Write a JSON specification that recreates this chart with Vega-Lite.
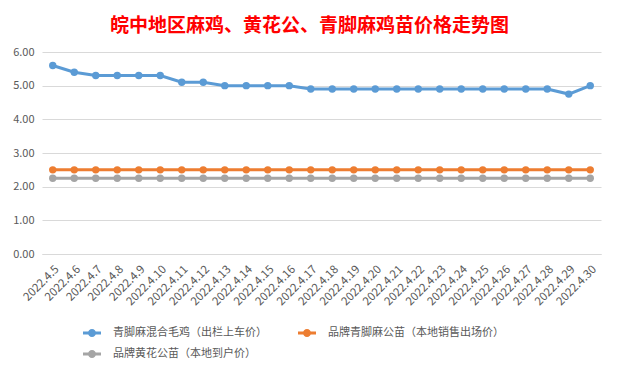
{
  "$schema": "https://vega.github.io/schema/vega-lite/v6.json",
  "width": 559,
  "height": 202,
  "autosize": "none",
  "padding": {"left": 42, "top": 52, "right": 18, "bottom": 118},
  "background": "white",
  "config": {
    "font": "Noto Sans CJK SC",
    "view": {"stroke": null}
  },
  "title": {
    "text": "皖中地区麻鸡、黄花公、青脚麻鸡苗价格走势图",
    "color": "#FF0000",
    "fontSize": 19,
    "fontWeight": "bold",
    "font": "Noto Sans CJK SC",
    "anchor": "middle",
    "frame": "group",
    "dx": -12,
    "offset": 10
  },
  "datasets": {
    "prices": [
      {"date": "2022.4.5", "s": "青脚麻混合毛鸡（出栏上车价）", "v": 5.6},
      {"date": "2022.4.6", "s": "青脚麻混合毛鸡（出栏上车价）", "v": 5.4},
      {"date": "2022.4.7", "s": "青脚麻混合毛鸡（出栏上车价）", "v": 5.3},
      {"date": "2022.4.8", "s": "青脚麻混合毛鸡（出栏上车价）", "v": 5.3},
      {"date": "2022.4.9", "s": "青脚麻混合毛鸡（出栏上车价）", "v": 5.3},
      {"date": "2022.4.10", "s": "青脚麻混合毛鸡（出栏上车价）", "v": 5.3},
      {"date": "2022.4.11", "s": "青脚麻混合毛鸡（出栏上车价）", "v": 5.1},
      {"date": "2022.4.12", "s": "青脚麻混合毛鸡（出栏上车价）", "v": 5.1},
      {"date": "2022.4.13", "s": "青脚麻混合毛鸡（出栏上车价）", "v": 5.0},
      {"date": "2022.4.14", "s": "青脚麻混合毛鸡（出栏上车价）", "v": 5.0},
      {"date": "2022.4.15", "s": "青脚麻混合毛鸡（出栏上车价）", "v": 5.0},
      {"date": "2022.4.16", "s": "青脚麻混合毛鸡（出栏上车价）", "v": 5.0},
      {"date": "2022.4.17", "s": "青脚麻混合毛鸡（出栏上车价）", "v": 4.9},
      {"date": "2022.4.18", "s": "青脚麻混合毛鸡（出栏上车价）", "v": 4.9},
      {"date": "2022.4.19", "s": "青脚麻混合毛鸡（出栏上车价）", "v": 4.9},
      {"date": "2022.4.20", "s": "青脚麻混合毛鸡（出栏上车价）", "v": 4.9},
      {"date": "2022.4.21", "s": "青脚麻混合毛鸡（出栏上车价）", "v": 4.9},
      {"date": "2022.4.22", "s": "青脚麻混合毛鸡（出栏上车价）", "v": 4.9},
      {"date": "2022.4.23", "s": "青脚麻混合毛鸡（出栏上车价）", "v": 4.9},
      {"date": "2022.4.24", "s": "青脚麻混合毛鸡（出栏上车价）", "v": 4.9},
      {"date": "2022.4.25", "s": "青脚麻混合毛鸡（出栏上车价）", "v": 4.9},
      {"date": "2022.4.26", "s": "青脚麻混合毛鸡（出栏上车价）", "v": 4.9},
      {"date": "2022.4.27", "s": "青脚麻混合毛鸡（出栏上车价）", "v": 4.9},
      {"date": "2022.4.28", "s": "青脚麻混合毛鸡（出栏上车价）", "v": 4.9},
      {"date": "2022.4.29", "s": "青脚麻混合毛鸡（出栏上车价）", "v": 4.75},
      {"date": "2022.4.30", "s": "青脚麻混合毛鸡（出栏上车价）", "v": 5.0},
      {"date": "2022.4.5", "s": "品牌青脚麻公苗（本地销售出场价）", "v": 2.5},
      {"date": "2022.4.6", "s": "品牌青脚麻公苗（本地销售出场价）", "v": 2.5},
      {"date": "2022.4.7", "s": "品牌青脚麻公苗（本地销售出场价）", "v": 2.5},
      {"date": "2022.4.8", "s": "品牌青脚麻公苗（本地销售出场价）", "v": 2.5},
      {"date": "2022.4.9", "s": "品牌青脚麻公苗（本地销售出场价）", "v": 2.5},
      {"date": "2022.4.10", "s": "品牌青脚麻公苗（本地销售出场价）", "v": 2.5},
      {"date": "2022.4.11", "s": "品牌青脚麻公苗（本地销售出场价）", "v": 2.5},
      {"date": "2022.4.12", "s": "品牌青脚麻公苗（本地销售出场价）", "v": 2.5},
      {"date": "2022.4.13", "s": "品牌青脚麻公苗（本地销售出场价）", "v": 2.5},
      {"date": "2022.4.14", "s": "品牌青脚麻公苗（本地销售出场价）", "v": 2.5},
      {"date": "2022.4.15", "s": "品牌青脚麻公苗（本地销售出场价）", "v": 2.5},
      {"date": "2022.4.16", "s": "品牌青脚麻公苗（本地销售出场价）", "v": 2.5},
      {"date": "2022.4.17", "s": "品牌青脚麻公苗（本地销售出场价）", "v": 2.5},
      {"date": "2022.4.18", "s": "品牌青脚麻公苗（本地销售出场价）", "v": 2.5},
      {"date": "2022.4.19", "s": "品牌青脚麻公苗（本地销售出场价）", "v": 2.5},
      {"date": "2022.4.20", "s": "品牌青脚麻公苗（本地销售出场价）", "v": 2.5},
      {"date": "2022.4.21", "s": "品牌青脚麻公苗（本地销售出场价）", "v": 2.5},
      {"date": "2022.4.22", "s": "品牌青脚麻公苗（本地销售出场价）", "v": 2.5},
      {"date": "2022.4.23", "s": "品牌青脚麻公苗（本地销售出场价）", "v": 2.5},
      {"date": "2022.4.24", "s": "品牌青脚麻公苗（本地销售出场价）", "v": 2.5},
      {"date": "2022.4.25", "s": "品牌青脚麻公苗（本地销售出场价）", "v": 2.5},
      {"date": "2022.4.26", "s": "品牌青脚麻公苗（本地销售出场价）", "v": 2.5},
      {"date": "2022.4.27", "s": "品牌青脚麻公苗（本地销售出场价）", "v": 2.5},
      {"date": "2022.4.28", "s": "品牌青脚麻公苗（本地销售出场价）", "v": 2.5},
      {"date": "2022.4.29", "s": "品牌青脚麻公苗（本地销售出场价）", "v": 2.5},
      {"date": "2022.4.30", "s": "品牌青脚麻公苗（本地销售出场价）", "v": 2.5},
      {"date": "2022.4.5", "s": "品牌黄花公苗（本地到户价）", "v": 2.25},
      {"date": "2022.4.6", "s": "品牌黄花公苗（本地到户价）", "v": 2.25},
      {"date": "2022.4.7", "s": "品牌黄花公苗（本地到户价）", "v": 2.25},
      {"date": "2022.4.8", "s": "品牌黄花公苗（本地到户价）", "v": 2.25},
      {"date": "2022.4.9", "s": "品牌黄花公苗（本地到户价）", "v": 2.25},
      {"date": "2022.4.10", "s": "品牌黄花公苗（本地到户价）", "v": 2.25},
      {"date": "2022.4.11", "s": "品牌黄花公苗（本地到户价）", "v": 2.25},
      {"date": "2022.4.12", "s": "品牌黄花公苗（本地到户价）", "v": 2.25},
      {"date": "2022.4.13", "s": "品牌黄花公苗（本地到户价）", "v": 2.25},
      {"date": "2022.4.14", "s": "品牌黄花公苗（本地到户价）", "v": 2.25},
      {"date": "2022.4.15", "s": "品牌黄花公苗（本地到户价）", "v": 2.25},
      {"date": "2022.4.16", "s": "品牌黄花公苗（本地到户价）", "v": 2.25},
      {"date": "2022.4.17", "s": "品牌黄花公苗（本地到户价）", "v": 2.25},
      {"date": "2022.4.18", "s": "品牌黄花公苗（本地到户价）", "v": 2.25},
      {"date": "2022.4.19", "s": "品牌黄花公苗（本地到户价）", "v": 2.25},
      {"date": "2022.4.20", "s": "品牌黄花公苗（本地到户价）", "v": 2.25},
      {"date": "2022.4.21", "s": "品牌黄花公苗（本地到户价）", "v": 2.25},
      {"date": "2022.4.22", "s": "品牌黄花公苗（本地到户价）", "v": 2.25},
      {"date": "2022.4.23", "s": "品牌黄花公苗（本地到户价）", "v": 2.25},
      {"date": "2022.4.24", "s": "品牌黄花公苗（本地到户价）", "v": 2.25},
      {"date": "2022.4.25", "s": "品牌黄花公苗（本地到户价）", "v": 2.25},
      {"date": "2022.4.26", "s": "品牌黄花公苗（本地到户价）", "v": 2.25},
      {"date": "2022.4.27", "s": "品牌黄花公苗（本地到户价）", "v": 2.25},
      {"date": "2022.4.28", "s": "品牌黄花公苗（本地到户价）", "v": 2.25},
      {"date": "2022.4.29", "s": "品牌黄花公苗（本地到户价）", "v": 2.25},
      {"date": "2022.4.30", "s": "品牌黄花公苗（本地到户价）", "v": 2.25}
    ]
  },
  "data": {"name": "prices"},
  "encoding": {
    "x": {
      "field": "date",
      "type": "ordinal",
      "sort": null,
      "title": null,
      "scale": {"type": "point", "padding": 0.5},
      "axis": {
        "labelAngle": -45,
        "labelFontSize": 11.5,
        "labelColor": "#595959",
        "ticks": false,
        "domain": true,
        "domainColor": "#D9D9D9",
        "labelPadding": 9,
        "grid": false
      }
    },
    "y": {
      "field": "v",
      "type": "quantitative",
      "title": null,
      "scale": {"domain": [0, 6], "nice": false},
      "axis": {
        "values": [0, 1, 2, 3, 4, 5, 6],
        "format": ".2f",
        "labelFontSize": 11,
        "labelColor": "#595959",
        "ticks": false,
        "domain": false,
        "gridColor": "#D9D9D9",
        "labelPadding": 8
      }
    },
    "color": {
      "field": "s",
      "type": "nominal",
      "sort": ["青脚麻混合毛鸡（出栏上车价）", "品牌青脚麻公苗（本地销售出场价）", "品牌黄花公苗（本地到户价）"],
      "scale": {
        "domain": ["青脚麻混合毛鸡（出栏上车价）", "品牌青脚麻公苗（本地销售出场价）", "品牌黄花公苗（本地到户价）"],
        "range": ["#5B9BD5", "#ED7D31", "#A5A5A5"]
      },
      "legend": {
        "title": null,
        "orient": "none",
        "legendX": 41,
        "legendY": 272,
        "direction": "horizontal",
        "columns": 2,
        "columnPadding": 31,
        "rowPadding": 7,
        "labelFontSize": 11,
        "labelLimit": 400,
        "labelColor": "#595959",
        "labelOffset": 12,
        "symbolSize": 324,
        "symbolType": "M-1,-0.17H1V0.17H-1Z M-0.45,0A0.45,0.45 0 1,1 0.45,0A0.45,0.45 0 1,1 -0.45,0Z",
        "encode": {
          "symbols": {
            "update": {
              "fill": {"scale": "color", "field": "value"},
              "stroke": {"value": "transparent"},
              "strokeWidth": {"value": 0},
              "opacity": {"value": 1}
            }
          }
        }
      }
    }
  },
  "layer": [
    {"mark": {"type": "line", "strokeWidth": 3}},
    {"mark": {"type": "point", "filled": true, "size": 55, "opacity": 1}}
  ]
}
